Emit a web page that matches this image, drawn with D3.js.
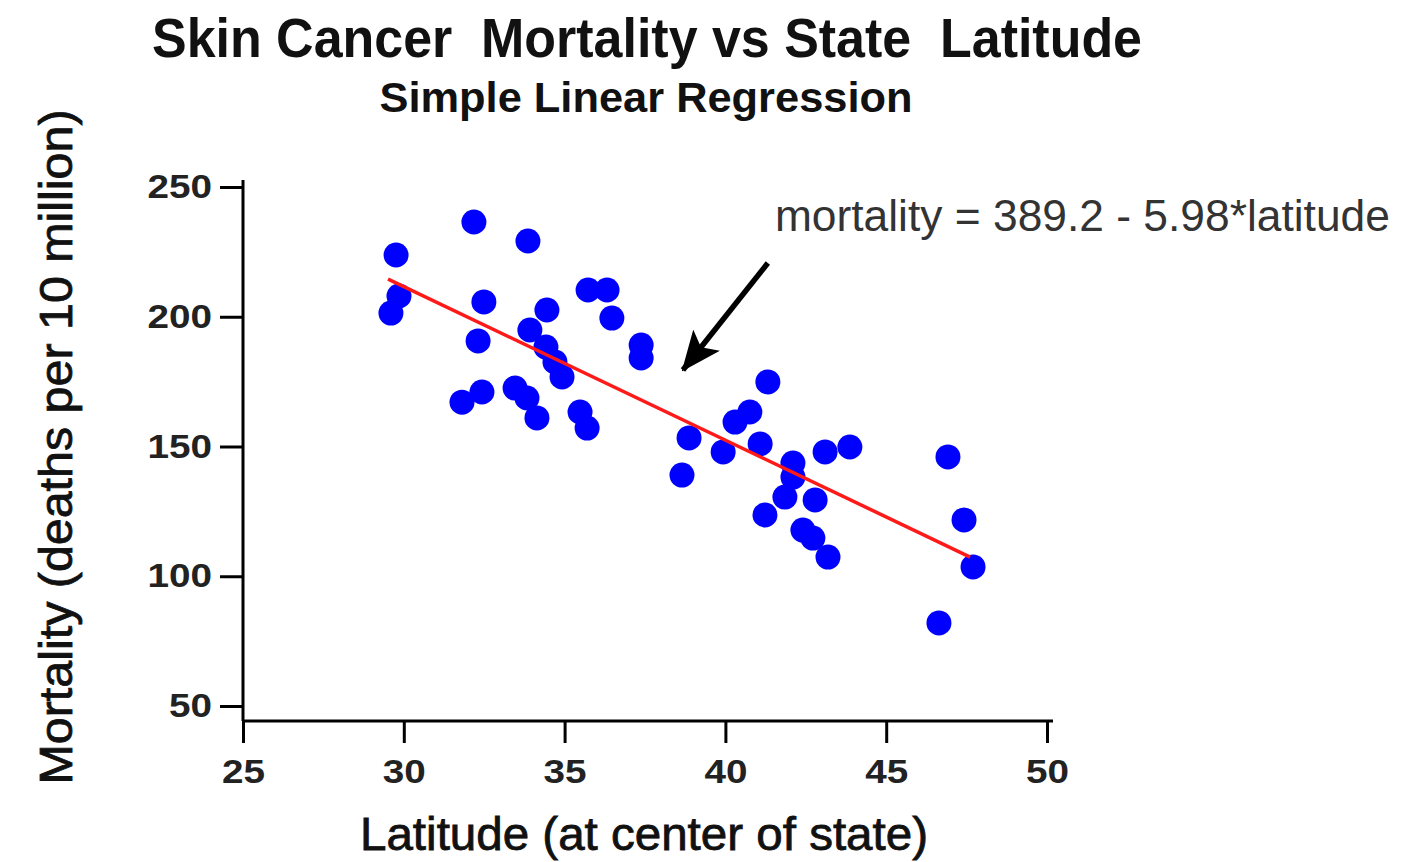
<!DOCTYPE html>
<html>
<head>
<meta charset="utf-8">
<script src="https://cdn.jsdelivr.net/npm/d3@7"></script>
<style>
body { margin: 0; background: #fff; }
text { font-family: "Liberation Sans", Arial, sans-serif; white-space: pre; }
</style>
</head>
<body>
<svg id="chart" width="1411" height="862"></svg>
<script>
// latitude (deg, centre of state) and skin cancer mortality
var latitude = [32.18, 33.86, 29.76, 29.85, 29.60, 32.49, 34.45, 35.73, 36.32, 36.47,
    37.38, 37.38, 32.31, 33.92, 34.42, 34.70, 34.92, 31.81, 32.43, 33.46,
    33.83, 34.14, 35.48, 35.70, 41.32, 40.76, 40.30, 38.87, 39.93, 41.08,
    38.65, 42.10, 42.10, 43.10, 43.87, 41.85, 42.79, 41.23, 42.41, 42.72,
    43.19, 46.92, 47.42, 47.70, 46.64];
var mortality = [236.5, 229.2, 223.8, 208.0, 201.4, 205.7, 202.6, 210.3, 210.3, 199.5,
    189.1, 184.1, 190.7, 194.9, 188.3, 182.6, 176.8, 167.1, 171.0, 172.5,
    168.7, 161.0, 163.3, 157.1, 174.9, 163.3, 159.4, 153.3, 147.9, 151.0,
    139.0, 143.6, 138.2, 147.9, 149.8, 130.5, 129.4, 123.6, 117.8, 114.7,
    107.4, 146.0, 121.7, 103.6, 82.0];

// fitted line ends as drawn
var fitLat = [29.51, 47.61];
var fitMort = [214.5, 107.4];

var xTicks = [25, 30, 35, 40, 45, 50];
var yTicks = [50, 100, 150, 200, 250];

var titleText = "Skin Cancer  Mortality vs State  Latitude";
var subtitleText = "Simple Linear Regression";
var xLabel = "Latitude (at center of state)";
var yLabel = "Mortality (deaths per 10 million)";
var noteText = "mortality = 389.2 - 5.98*latitude";
// note anchor and arrow (start, tip) in data units
var notePos = [41.54, 233.0];
var arrowFrom = [41.32, 220.7];
var arrowTo = [38.68, 179.5];

var svg = d3.select("#chart");
var m = { left: 243, top: 187, right: 364, bottom: 156 };
var W = 1411, H = 862;

var x = d3.scaleLinear().domain([25, 50]).range([m.left, W - m.right]);
var y = d3.scaleLinear().domain([50, 250]).range([H - m.bottom, m.top]);
var xAxisY = y(50) + 15;

svg.append("text")
    .attr("x", 647).attr("y", 57)
    .attr("text-anchor", "middle")
    .attr("font-size", 56).attr("font-weight", "bold").attr("fill", "#111")
    .attr("textLength", 990).attr("lengthAdjust", "spacingAndGlyphs")
    .text(titleText);

svg.append("text")
    .attr("x", 646).attr("y", 112)
    .attr("text-anchor", "middle")
    .attr("font-size", 42).attr("font-weight", "bold").attr("fill", "#111")
    .attr("textLength", 533).attr("lengthAdjust", "spacingAndGlyphs")
    .text(subtitleText);

function styleTicks(g) {
    g.select(".domain").remove();
    g.selectAll(".tick line").attr("stroke", "#000").attr("stroke-width", 3);
    g.selectAll(".tick text")
        .attr("fill", "#222")
        .attr("font-size", 33).attr("font-weight", "bold")
        .attr("font-family", "'Liberation Sans', Arial, sans-serif")
        .attr("textLength", function(d) { return String(d).length * 21.5; })
        .attr("lengthAdjust", "spacingAndGlyphs");
}

var gy = svg.append("g")
    .attr("transform", "translate(" + m.left + ",0)")
    .call(d3.axisLeft(y).tickValues(yTicks).tickSize(23).tickPadding(8));
styleTicks(gy);

var gx = svg.append("g")
    .attr("transform", "translate(0," + xAxisY + ")")
    .call(d3.axisBottom(x).tickValues(xTicks).tickSize(22).tickPadding(17));
styleTicks(gx);

// axis lines
svg.append("line")
    .attr("x1", x(25)).attr("x2", x(25))
    .attr("y1", y(250) - 7).attr("y2", xAxisY)
    .attr("stroke", "#000").attr("stroke-width", 3);
svg.append("line")
    .attr("x1", x(25)).attr("x2", x(50) + 6)
    .attr("y1", xAxisY).attr("y2", xAxisY)
    .attr("stroke", "#000").attr("stroke-width", 3);

svg.append("text")
    .attr("x", 644).attr("y", 850)
    .attr("text-anchor", "middle")
    .attr("font-size", 46).attr("fill", "#111")
    .attr("stroke", "#111").attr("stroke-width", 0.8)
    .attr("textLength", 568).attr("lengthAdjust", "spacingAndGlyphs")
    .text(xLabel);

svg.append("text")
    .attr("transform", "translate(72,447) rotate(-90)")
    .attr("text-anchor", "middle")
    .attr("font-size", 47).attr("fill", "#111")
    .attr("stroke", "#111").attr("stroke-width", 0.8)
    .attr("textLength", 675).attr("lengthAdjust", "spacingAndGlyphs")
    .text(yLabel);

// points
var pts = latitude.map(function(d, i) { return { lat: d, mort: mortality[i] }; });
svg.append("g").selectAll("circle")
    .data(pts)
    .enter().append("circle")
    .attr("cx", function(d) { return x(d.lat); })
    .attr("cy", function(d) { return y(d.mort); })
    .attr("r", 12.5)
    .attr("fill", "#0000ff");

// fitted line
svg.append("line")
    .attr("x1", x(fitLat[0])).attr("y1", y(fitMort[0]))
    .attr("x2", x(fitLat[1])).attr("y2", y(fitMort[1]))
    .attr("stroke", "#ff1a1a").attr("stroke-width", 3.5);

// annotation
svg.append("text")
    .attr("x", x(notePos[0])).attr("y", y(notePos[1]))
    .attr("font-size", 45).attr("fill", "#333")
    .attr("textLength", 615).attr("lengthAdjust", "spacingAndGlyphs")
    .text(noteText);

var defs = svg.append("defs");
defs.append("marker")
    .attr("id", "head")
    .attr("markerUnits", "userSpaceOnUse")
    .attr("viewBox", "0 0 40 34")
    .attr("refX", 38).attr("refY", 17)
    .attr("markerWidth", 40).attr("markerHeight", 34)
    .attr("orient", "auto")
    .append("path")
    .attr("d", "M0,0 L40,17 L0,34 L9,17 Z")
    .attr("fill", "#000");

svg.append("line")
    .attr("x1", x(arrowFrom[0])).attr("y1", y(arrowFrom[1]))
    .attr("x2", x(arrowTo[0])).attr("y2", y(arrowTo[1]))
    .attr("stroke", "#000").attr("stroke-width", 5.5)
    .attr("marker-end", "url(#head)");
</script>
</body>
</html>
